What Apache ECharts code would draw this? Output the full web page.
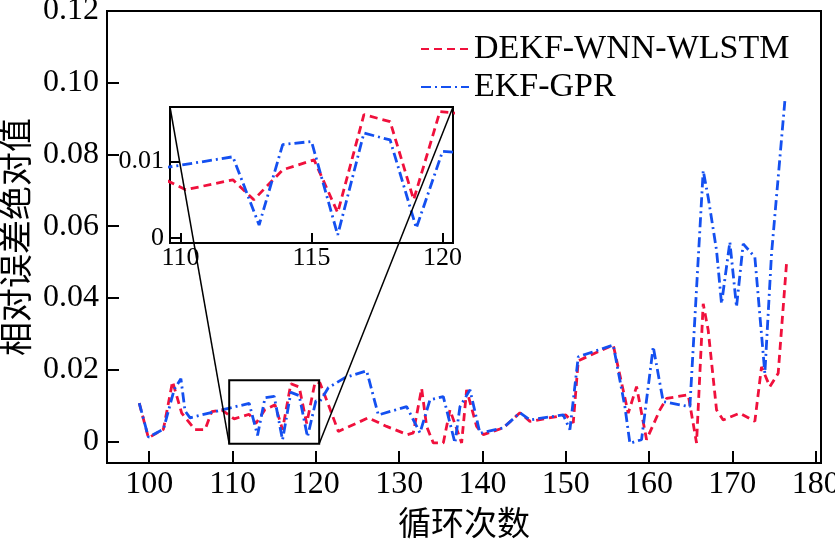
<!DOCTYPE html>
<html><head><meta charset="utf-8">
<script src="https://cdn.jsdelivr.net/npm/echarts@6/dist/echarts.min.js"></script>
<style>html,body{margin:0;padding:0;background:#fff}#c{width:835px;height:540px}</style>
</head><body><div id="c"></div>
<script>
const seriesNames = ['DEKF-WNN-WLSTM', 'EKF-GPR'];
const xAxisName = '循环次数';
const yAxisName = '相对误差绝对值';

const dekfCycles = [98.8, 99.9, 101.7, 102.8, 103.9, 105.5, 106.7, 107.5, 108.7, 110.2, 112.0, 112.8, 113.9, 115.1, 116.0, 117.0, 118.0, 118.9, 119.9, 120.5, 121.6, 122.7, 126.3, 128.5, 131.0, 131.7, 132.7, 133.3, 134.1, 135.3, 136.1, 137.5, 138.1, 139.3, 140.1, 142.5, 144.5, 145.7, 150.0, 150.9, 151.5, 155.7, 157.5, 158.5, 159.7, 161.3, 162.1, 164.7, 165.7, 166.5, 167.1, 168.1, 168.9, 170.9, 172.7, 173.5, 174.5, 175.5, 176.5];
const dekfValues = [0.0107, 0.0010, 0.0034, 0.0167, 0.0079, 0.0033, 0.0033, 0.0083, 0.0088, 0.0063, 0.0076, 0.0050, 0.0089, 0.0102, 0.0033, 0.0161, 0.0152, 0.0050, 0.0165, 0.0163, 0.0097, 0.0028, 0.0066, 0.0042, 0.0019, 0.0024, 0.0148, 0.0042, -0.0004, -0.0004, 0.0088, -0.0004, 0.0144, 0.0042, 0.0019, 0.0038, 0.0080, 0.0056, 0.0074, 0.0052, 0.0225, 0.0269, 0.0079, 0.0153, 0.0005, 0.0088, 0.0120, 0.0130, -0.0004, 0.0384, 0.0310, 0.0088, 0.0060, 0.0079, 0.0056, 0.0208, 0.0153, 0.0190, 0.0496];

const ekfCycles = [98.8, 99.9, 101.7, 103.0, 103.8, 104.3, 104.9, 108.7, 110.0, 112.0, 113.0, 113.9, 115.0, 116.0, 117.0, 118.0, 119.0, 120.0, 120.5, 121.5, 123.5, 126.1, 127.5, 130.9, 132.5, 133.7, 135.3, 136.7, 137.3, 138.5, 139.7, 142.5, 144.5, 145.7, 149.7, 150.5, 151.5, 155.7, 157.1, 157.7, 159.1, 160.5, 161.7, 164.9, 166.5, 167.1, 168.1, 168.7, 169.7, 170.5, 171.3, 172.7, 173.9, 174.7, 176.3];
const ekfValues = [0.0107, 0.0012, 0.0034, 0.0145, 0.0175, 0.0085, 0.0066, 0.0088, 0.0095, 0.0106, 0.0017, 0.0122, 0.0126, 0.0004, 0.0137, 0.0128, 0.0013, 0.0113, 0.0112, 0.0150, 0.0178, 0.0197, 0.0074, 0.0097, 0.0024, 0.0116, 0.0125, -0.0004, 0.0097, 0.0144, 0.0023, 0.0038, 0.0080, 0.0060, 0.0074, 0.0033, 0.0236, 0.0269, 0.0097, -0.0005, 0.0005, 0.0264, 0.0111, 0.0097, 0.0755, 0.0680, 0.0533, 0.0384, 0.0556, 0.0375, 0.0551, 0.0514, 0.0190, 0.0523, 0.0949];

const xTicks = [100, 110, 120, 130, 140, 150, 160, 170, 180];
const yTicks = [0, 0.02, 0.04, 0.06, 0.08, 0.10, 0.12];
const insetXTicks = [110, 115, 120];
const insetYTicks = [0, 0.01];

const mainXRange = [94.93, 180.64];
const mainYRange = [-0.006, 0.12];
const insetXRange = [109.6, 120.4];
const insetYRange = [-0.00065, 0.0171];

const RED = '#f0103c';
const BLUE = '#1450f0';
const serif = 'Liberation Serif';
const cjk = 'Noto Sans CJK SC';

const pairs = (xs, ys) => xs.map((x, i) => [x, ys[i]]);
const dekfData = pairs(dekfCycles, dekfValues);
const ekfData = pairs(ekfCycles, ekfValues);
const fmt = v => (v === 0 ? '0' : v.toFixed(2));

function makeAxisCommon(fontSize, margin, tickLen) {
  return {
    axisLine: { show: true, onZero: false, lineStyle: { color: '#000', width: 2 } },
    axisTick: { show: true, inside: true, length: tickLen, lineStyle: { color: '#000', width: 2 } },
    axisLabel: { color: '#000', fontFamily: serif, fontSize: fontSize, margin: margin, showMaxLabel: true, showMinLabel: true, hideOverlap: false },
    splitLine: { show: false }
  };
}

function series(name, data, color, dash, xi) {
  return {
    name: name, type: 'line', data: data, xAxisIndex: xi, yAxisIndex: xi,
    symbol: 'none', clip: true, z: 3,
    lineStyle: { color: color, width: 2.8, type: dash },
    itemStyle: { color: color }
  };
}

const chart = echarts.init(document.getElementById('c'), null, { renderer: 'canvas' });

const mx = makeAxisCommon(32, 6, 12);
const my = makeAxisCommon(32, 8, 12);
const ix = makeAxisCommon(26, 2, 10);
const iy = makeAxisCommon(26, 6, 10);

chart.setOption({
  animation: false,
  backgroundColor: '#fff',
  grid: [
    { left: 107, top: 11, right: 14, bottom: 77, containLabel: false, outerBoundsMode: 'none', show: true, borderColor: '#000', borderWidth: 2, backgroundColor: 'transparent' },
    { left: 170, top: 107, width: 283, height: 136, containLabel: false, outerBoundsMode: 'none', show: true, borderColor: '#000', borderWidth: 2, backgroundColor: '#fff', z: 5 }
  ],
  legend: {
    orient: 'vertical', left: 415, top: 27, itemWidth: 48, itemHeight: 3, itemGap: 4,
    data: seriesNames,
    itemStyle: { opacity: 0 },
    textStyle: { fontFamily: serif, fontSize: 34, color: '#000', lineHeight: 32 }
  },
  xAxis: [
    Object.assign({}, mx, {
      type: 'value', gridIndex: 0, min: mainXRange[0], max: mainXRange[1],
      name: xAxisName, nameLocation: 'middle', nameGap: 39,
      nameTextStyle: { fontFamily: cjk, fontSize: 33, color: '#000' },
      axisTick: Object.assign({}, mx.axisTick, { customValues: xTicks }),
      axisLabel: Object.assign({}, mx.axisLabel, { customValues: xTicks })
    }),
    Object.assign({}, ix, {
      type: 'value', gridIndex: 1, min: insetXRange[0], max: insetXRange[1], z: 6,
      axisTick: Object.assign({}, ix.axisTick, { customValues: insetXTicks }),
      axisLabel: Object.assign({}, ix.axisLabel, { customValues: insetXTicks })
    })
  ],
  yAxis: [
    Object.assign({}, my, {
      type: 'value', gridIndex: 0, min: mainYRange[0], max: mainYRange[1],
      name: yAxisName, nameLocation: 'middle', nameGap: 58, nameRotate: 90,
      nameTextStyle: { fontFamily: cjk, fontSize: 34, color: '#000' },
      axisTick: Object.assign({}, my.axisTick, { customValues: yTicks }),
      axisLabel: Object.assign({}, my.axisLabel, { customValues: yTicks, formatter: fmt })
    }),
    Object.assign({}, iy, {
      type: 'value', gridIndex: 1, min: insetYRange[0], max: insetYRange[1], z: 6,
      axisTick: Object.assign({}, iy.axisTick, { customValues: insetYTicks }),
      axisLabel: Object.assign({}, iy.axisLabel, { customValues: insetYTicks, formatter: fmt })
    })
  ],
  series: [
    series(seriesNames[0], dekfData, RED, [8, 5], 0),
    series(seriesNames[1], ekfData, BLUE, [10, 4, 2, 4], 0),
    Object.assign(series(seriesNames[0], dekfData, RED, [8, 5], 1), { z: 7 }),
    Object.assign(series(seriesNames[1], ekfData, BLUE, [10, 4, 2, 4], 1), { z: 7 })
  ]
});

// zoom rectangle in main plot and connector lines to the inset
const rTL = chart.convertToPixel({ gridIndex: 0 }, [insetXRange[0], insetYRange[1]]);
const rBR = chart.convertToPixel({ gridIndex: 0 }, [insetXRange[1], insetYRange[0]]);
const iTL = chart.convertToPixel({ gridIndex: 1 }, [insetXRange[0], insetYRange[1]]);
const iTR = chart.convertToPixel({ gridIndex: 1 }, [insetXRange[1], insetYRange[1]]);
chart.setOption({
  graphic: [
    { type: 'rect', z: 20, shape: { x: rTL[0], y: rTL[1], width: rBR[0] - rTL[0], height: rBR[1] - rTL[1] },
      style: { fill: 'none', stroke: '#000', lineWidth: 2 } },
    { type: 'line', z: 20, shape: { x1: iTL[0], y1: iTL[1], x2: rTL[0], y2: rBR[1] },
      style: { stroke: '#000', lineWidth: 1.5 } },
    { type: 'line', z: 20, shape: { x1: iTR[0], y1: iTR[1], x2: rBR[0], y2: rBR[1] },
      style: { stroke: '#000', lineWidth: 1.5 } }
  ]
});
</script>
</body></html>
